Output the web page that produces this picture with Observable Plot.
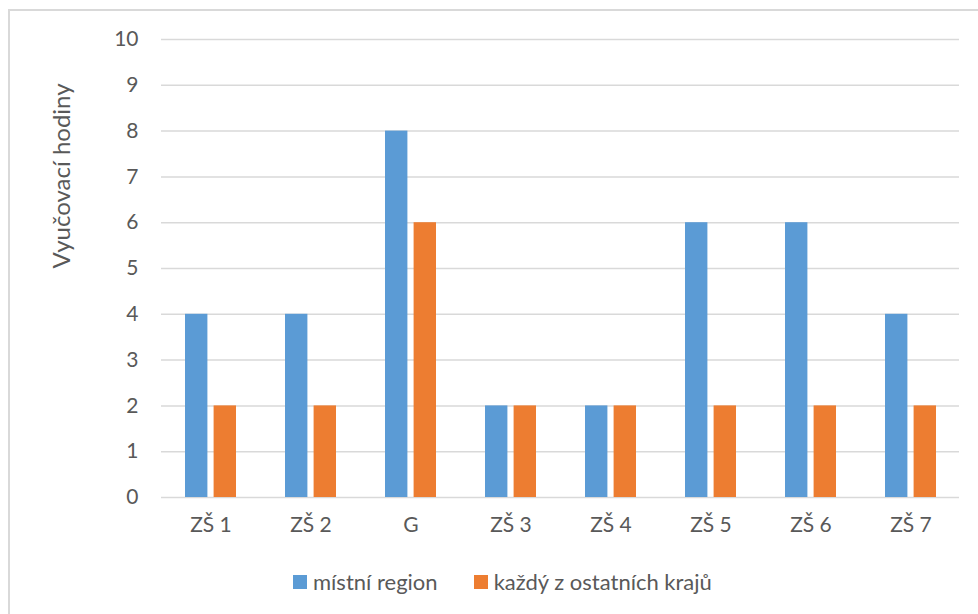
<!DOCTYPE html>
<html>
<head>
<meta charset="utf-8">
<script src="https://cdn.jsdelivr.net/npm/d3@7"></script>
<script src="https://cdn.jsdelivr.net/npm/@observablehq/plot@0.6"></script>
<style>
  html, body { margin: 0; padding: 0; background: #fff; }
  body { width: 978px; height: 614px; position: relative; overflow: hidden; font-family: Lato, "Open Sans", sans-serif; }
  #frame { position: absolute; left: 8px; top: 9px; width: 1000px; height: 640px; border-left: 2px solid #d9d9d9; border-top: 2px solid #d9d9d9; box-sizing: border-box; }
  #chart { position: absolute; left: 0; top: 0; }
  #legend { position: absolute; left: 293px; top: 568px; display: flex; align-items: center; font-size: 22px; color: #595959; }
  .item { display: flex; align-items: center; }
  .swatch { width: 14px; height: 14px; margin-right: 6px; }
</style>
</head>
<body>
<div id="frame"></div>
<div id="chart"></div>
<div id="legend"></div>
<script>
// Teaching hours per school
const schools = ["ZŠ 1", "ZŠ 2", "G", "ZŠ 3", "ZŠ 4", "ZŠ 5", "ZŠ 6", "ZŠ 7"];
const localRegion = [4, 4, 8, 2, 2, 6, 6, 4];
const otherRegions = [2, 2, 6, 2, 2, 2, 2, 2];
const seriesNames = ["místní region", "každý z ostatních krajů"];
const seriesColors = ["#5B9BD5", "#ED7D31"];
const yTicks = [0, 1, 2, 3, 4, 5, 6, 7, 8, 9, 10];
const yLabel = "Vyučovací hodiny";

const rowsLocal = schools.map((s, i) => ({school: s, series: seriesNames[0], value: localRegion[i]}));
const rowsOther = schools.map((s, i) => ({school: s, series: seriesNames[1], value: otherRegions[i]}));

const textColor = "#595959";

const chart = Plot.plot({
  width: 978,
  height: 550,
  marginTop: 39,
  marginBottom: 53,
  marginLeft: 161,
  marginRight: 19,
  style: {fontFamily: "Lato, 'Open Sans', sans-serif", fontSize: "21px", color: textColor, background: "transparent"},
  x: {domain: schools, paddingInner: 0.49, paddingOuter: 0.23, label: null},
  y: {domain: [0, 10], label: null},
  color: {domain: seriesNames, range: seriesColors},
  marks: [
    Plot.ruleY(yTicks, {stroke: "#d9d9d9", strokeWidth: 1.5}),
    Plot.barY(rowsLocal, {x: "school", y: "value", fill: "series", insetRight: 28.6}),
    Plot.barY(rowsOther, {x: "school", y: "value", fill: "series", insetLeft: 28.6}),
    Plot.axisY(yTicks, {tickSize: 0, tickPadding: 23, label: null, fill: textColor, fontSize: 21}),
    Plot.axisX({tickSize: 0, tickPadding: 20, label: null, fill: textColor, fontSize: 21}),
    Plot.text([yLabel], {frameAnchor: "left", dx: -99, rotate: -90, fontSize: 24, fill: textColor})
  ]
});
document.getElementById("chart").appendChild(chart);

// Legend below the plot
const legend = document.getElementById("legend");
seriesNames.forEach((name, i) => {
  const item = document.createElement("div");
  item.className = "item";
  if (i > 0) item.style.marginLeft = "36px";
  const sw = document.createElement("div");
  sw.className = "swatch";
  sw.style.background = seriesColors[i];
  const label = document.createElement("span");
  label.textContent = name;
  item.appendChild(sw);
  item.appendChild(label);
  legend.appendChild(item);
});
</script>
</body>
</html>
